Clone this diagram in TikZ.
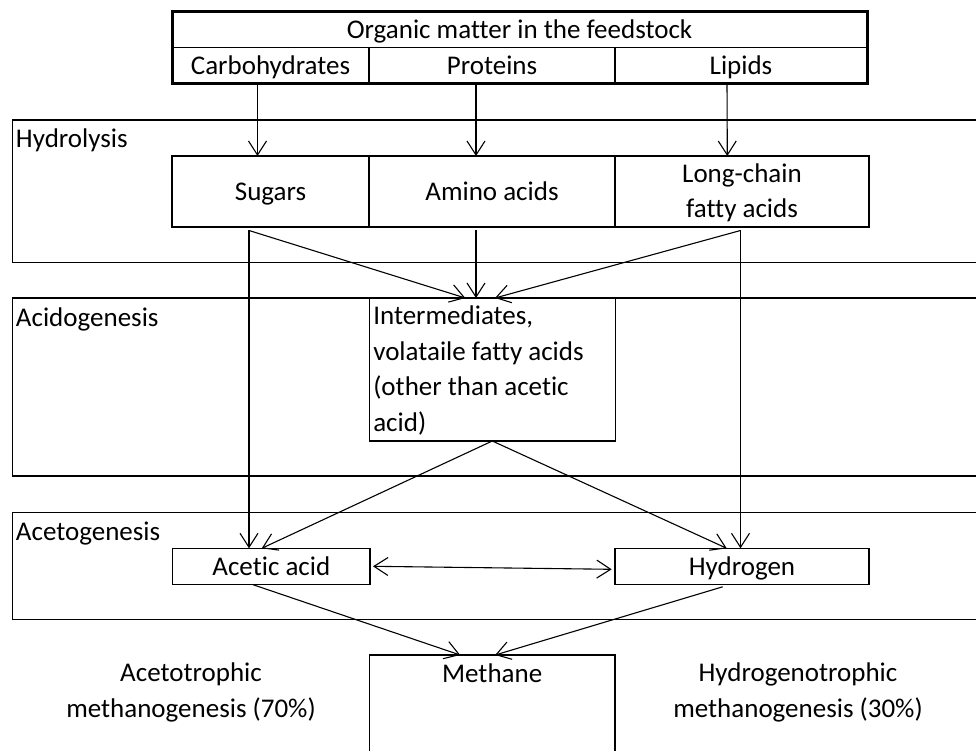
\documentclass[tikz,border=0pt]{standalone}
\usepackage{fontspec}
\setmainfont{Carlito}[Ligatures=NoCommon]
\usetikzlibrary{arrows.meta}
\begin{document}
\begin{tikzpicture}[x=1pt,y=-1pt,
  every node/.style={font=\fontsize{27}{35.5}\selectfont, inner sep=0pt, outer sep=0pt, text height=22pt, text depth=4.6pt},
  cell/.style={draw, line width=1.3pt, anchor=north west},
  band/.style={draw, line width=1.4pt, anchor=north west, minimum width=1000pt},
  lbl/.style={anchor=base west},
  arr/.style={line width=1.1pt, -{Straight Barb[length=14pt,width=18pt,line width=1.1pt]}},
  darr/.style={line width=1.1pt, {Straight Barb[length=14pt,width=18pt,line width=1.1pt]}-{Straight Barb[length=14pt,width=18pt,line width=1.1pt]}}]
\useasboundingbox (0,0) rectangle (976,751);
\fill[white] (0,0) rectangle (976,751);
% bands
\node[band, minimum height=142.7pt] (hydro) at (12.7,120) {};
\node[band, minimum height=178pt] (acido) at (12.7,298) {};
\node[band, minimum height=107pt] (aceto) at (12.7,512.3) {};
\node[lbl] (hydrol) at (16,148) {Hydrolysis};
\node[lbl] (acidol) at (16,326) {Acidogenesis};
\node[lbl] (acetol) at (16,540) {Acetogenesis};
% top box
\node[cell, minimum width=695pt, minimum height=36pt] (org) at (172,11.7) {Organic matter in the feedstock};
\node[cell, minimum width=197pt, minimum height=35.6pt] (carb) at (172,47.7) {Carbohydrates};
\node[cell, minimum width=246pt, minimum height=35.6pt] (prot) at (369,47.7) {Proteins};
\node[cell, minimum width=252pt, minimum height=35.6pt] (lip) at (615,47.7) {Lipids};
\draw[line width=3pt] (org.north west) rectangle (lip.south east);
% hydrolysis products
\node[cell, minimum width=197pt, minimum height=71pt] (sug) at (172,156) {Sugars};
\node[cell, minimum width=246pt, minimum height=71pt] (amino) at (369,156) {Amino acids};
\node[cell, minimum width=254pt, minimum height=71pt, align=center, text height=57.5pt] (lcfa) at (615,156) {Long-chain\\fatty acids};
% intermediates
\node[cell, minimum width=246pt, minimum height=143pt, align=flush left, text width=238pt, text depth=111.1pt] (inter) at (369.3,298) {Intermediates,\\volataile fatty acids\\(other than acetic\\acid)};
% acetogenesis products
\node[cell, minimum width=197.3pt, minimum height=36pt] (acetic) at (172.7,548.3) {Acetic acid};
\node[cell, minimum width=254pt, minimum height=36pt] (hgen) at (615,548.3) {Hydrogen};
% methane
\node[cell, minimum width=245.7pt, minimum height=130pt] (meth) at (369.3,655) {};
\node[anchor=base] (methl) at (meth.north |- 0,682) {Methane};
\node[align=center, anchor=base, text height=57.5pt] (acetotr) at (191,717.3) {Acetotrophic\\methanogenesis (70\%)};
\node[align=center, anchor=base, text height=57.5pt] (hydrotr) at (798,717.3) {Hydrogenotrophic\\methanogenesis (30\%)};
% connectors
\draw[arr] ([xshift=-13pt]carb.south) -- ([xshift=-13pt]sug.north);
\draw[arr] ([xshift=-16pt]prot.south) -- ([xshift=-16pt]amino.north);
\draw[arr] ([xshift=-14pt]lip.south) -- ([xshift=-14.7pt]lcfa.north);
\coordinate (sugout) at ([xshift=-21.5pt,yshift=-3.5pt]sug.south);
\coordinate (aminout) at ([xshift=-16pt,yshift=-3.5pt]amino.south);
\coordinate (lcfaout) at ([xshift=-1.5pt,yshift=-3.5pt]lcfa.south);
\draw[arr] (sugout) -- ([xshift=-27pt]inter.north);
\draw[arr] (aminout) -- ([xshift=-16.3pt]inter.north);
\draw[arr] (lcfaout) -- ([xshift=2.7pt]inter.north);
\draw[arr] (sugout) -- (sugout |- acetic.north);
\draw[arr] (lcfaout) -- (lcfaout |- hgen.north);
\draw[arr] (inter.south) -- ([xshift=-9.6pt]acetic.north);
\draw[arr] (inter.south) -- ([xshift=-15.3pt]hgen.north);
\draw[darr] ([xshift=3pt]acetic.east) -- ([xshift=-3.3pt,yshift=-3pt]hgen.west);
\draw[arr] ([xshift=-18pt,yshift=-0.5pt]acetic.south) -- ([xshift=-32pt]meth.north);
\draw[arr] ([xshift=-19.3pt,yshift=-2.5pt]hgen.south) -- ([xshift=3pt]meth.north);
\end{tikzpicture}
\end{document}
